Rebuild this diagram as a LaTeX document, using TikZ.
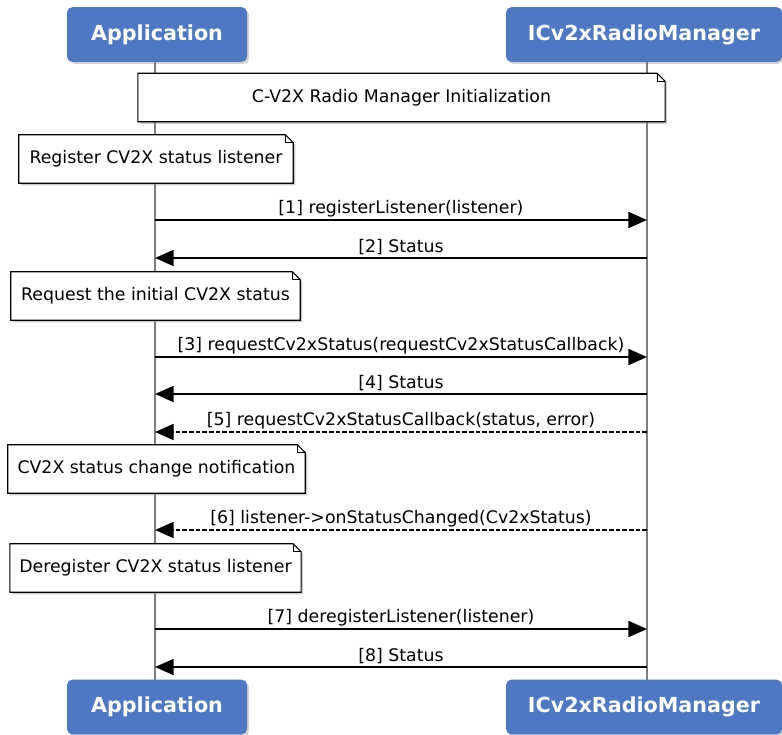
\documentclass[tikz,border=0pt]{standalone}
\usepackage{fontspec}
\setmainfont{DejaVu Sans}
\usepackage{tikz}
\usetikzlibrary{positioning,arrows.meta,calc,shadows,backgrounds}

\definecolor{headblue}{RGB}{78,120,196}
\definecolor{lifegray}{RGB}{125,125,125}

% note outline with a folded top-right corner
\newcommand{\notefold}[1]{%
  \begin{scope}[on background layer]
    \draw[notepath] (#1.south west) -- (#1.north west)
      -- ($(#1.north east)+(-8,0)$) -- ($(#1.north east)+(0,8)$)
      -- (#1.south east) -- cycle;
    \draw[line width=0.8pt] ($(#1.north east)+(-8,0)$) -- ++(0,8) -- ++(8,0);
  \end{scope}}

\begin{document}
\begin{tikzpicture}[
      x=0.75pt, y=-0.75pt,
      font=\fontsize{13}{15}\selectfont,
      head/.style={
        fill=headblue, rounded corners=4pt, text=white,
        minimum height=41pt, inner sep=0pt,
        font=\fontsize{15.5}{18}\selectfont\bfseries,
        drop shadow={shadow xshift=1.5pt, shadow yshift=-1.5pt, opacity=0.35},
      },
      note/.style={minimum height=36pt, inner sep=0pt},
      notepath/.style={
        fill=white, line width=0.8pt,
        drop shadow={shadow xshift=1.5pt, shadow yshift=-1.5pt, opacity=0.4},
      },
      lifeline/.style={draw=lifegray, line width=1.6pt},
      msg/.style={line width=1.5pt, -{Triangle[length=14pt,width=12pt]}},
      reply/.style={msg, dash pattern=on 3.5pt off 1.5pt},
      lbl/.style={above, inner sep=1.5pt},
    ]
    \useasboundingbox (0,0) rectangle (782,735);

    % participants, top and bottom
    \node[head, minimum width=135pt] (appTop) at (157,34.5) {Application};
    \node[head, minimum width=207pt] (mgrTop) at (644,34.5) {ICv2xRadioManager};
    \node[head, minimum width=135pt] (appBot) at (157,707) {Application};
    \node[head, minimum width=207pt] (mgrBot) at (644,707) {ICv2xRadioManager};

    % lifelines
    \begin{scope}[on background layer]
      \draw[lifeline] (155,62) coordinate (appL) -- (155,680);
      \draw[lifeline] (647,62) coordinate (mgrL) -- (647,680);
    \end{scope}

    % notes
    \node[note, minimum width=395pt] (init) at (401.5,97.5) {C-V2X Radio Manager Initialization};
    \node[note, minimum width=205.5pt] (reg) at (156,159) {Register CV2X status listener};
    \node[note, minimum width=216.75pt] (req) at (155.5,296) {Request the initial CV2X status};
    \node[note, minimum width=222.75pt] (chg) at (156.5,469) {CV2X status change notification};
    \node[note, minimum width=218pt] (dereg) at (155.5,568) {Deregister CV2X status listener};
    \notefold{init}
    \notefold{reg}
    \notefold{req}
    \notefold{chg}
    \notefold{dereg}

    % message end points on the lifelines
    \coordinate (a1) at (155,220);  \coordinate (m1) at (647,220);
    \coordinate (a2) at (155,258);  \coordinate (m2) at (647,258);
    \coordinate (a3) at (155,357);  \coordinate (m3) at (647,357);
    \coordinate (a4) at (155,394);  \coordinate (m4) at (647,394);
    \coordinate (a5) at (155,432);  \coordinate (m5) at (647,432);
    \coordinate (a6) at (155,530);  \coordinate (m6) at (647,530);
    \coordinate (a7) at (155,629);  \coordinate (m7) at (647,629);
    \coordinate (a8) at (155,667);  \coordinate (m8) at (647,667);

    % messages
    \draw[msg]   (a1) -- node[lbl] {[1] registerListener(listener)} (m1);
    \draw[msg]   (m2) -- node[lbl] {[2] Status} (a2);
    \draw[msg]   (a3) -- node[lbl] {[3] requestCv2xStatus(requestCv2xStatusCallback)} (m3);
    \draw[msg]   (m4) -- node[lbl] {[4] Status} (a4);
    \draw[reply] (m5) -- node[lbl] {[5] requestCv2xStatusCallback(status, error)} (a5);
    \draw[reply] (m6) -- node[lbl] {[6] listener->onStatusChanged(Cv2xStatus)} (a6);
    \draw[msg]   (a7) -- node[lbl] {[7] deregisterListener(listener)} (m7);
    \draw[msg]   (m8) -- node[lbl] {[8] Status} (a8);

  \end{tikzpicture}
\end{document}
